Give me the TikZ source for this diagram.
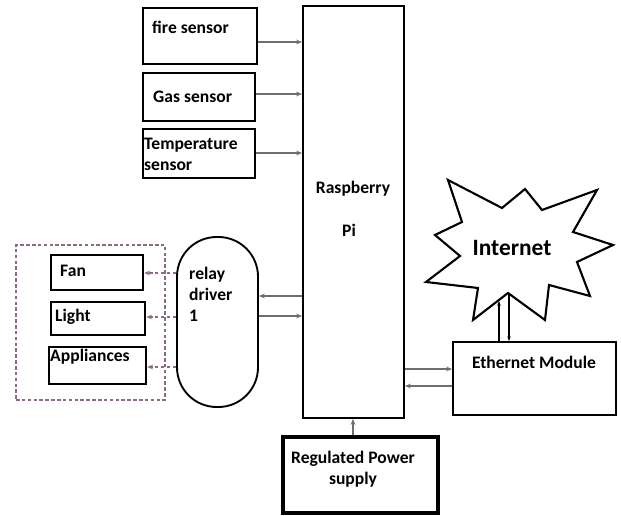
\documentclass[tikz,border=0pt]{standalone}
\usepackage{fontspec}
\setmainfont{Carlito}
\usepackage{tikz}
\usetikzlibrary{arrows.meta, positioning}

\definecolor{pfeilgrau}{RGB}{110,110,110}
\definecolor{lastlila}{RGB}{140,105,135}

\tikzset{
	block/.style={draw, line width=2.1pt, inner sep=0pt},
	txt/.style={font=\bfseries\fontsize{15}{18}\selectfont, inner sep=0pt},
	arr/.style={draw=pfeilgrau, line width=0.9pt, -{Stealth[length=5pt,width=4pt]}},
	lastarr/.style={draw=lastlila, densely dashed, line width=0.9pt, -{Stealth[length=5pt,width=4pt]}}
}

\begin{document}
\begin{tikzpicture}[x=0.03cm, y=-0.03cm]
			\useasboundingbox (0,0) rectangle (621,516);
			
			% Sensoren
			\node[block, minimum width=3.42cm, minimum height=1.68cm] (fire) at (200,36) {};
			\node[block, minimum width=3.36cm, minimum height=1.44cm] (gas) at (199,97) {};
			\node[block, minimum width=3.36cm, minimum height=1.47cm] (temp) at (199,153.5) {};
			\node[txt, anchor=west] (firetxt) at (152,27) {fire sensor};
			\node[txt, anchor=west] (gastxt) at (153,97) {Gas sensor};
			\node[txt, anchor=west, align=left] (temptxt) at (144,154) {Temperature\\sensor};
			
			% Raspberry Pi
			\node[block, line width=1.6pt, minimum width=3.03cm, minimum height=12.36cm] (pi) at (353.5,212) {};
			\node[txt] (pitxt1) at (353,189) {Raspberry};
			\node[txt] (pitxt2) at (349,230) {Pi};
			
			% Relais und Lasten
			\node[draw=lastlila, densely dashed, line width=1.2pt, minimum width=4.47cm, minimum height=4.65cm] (lasten) at (90.5,322.5) {};
			\node[block, minimum width=2.76cm, minimum height=1.05cm] (fan) at (97,272.5) {};
			\node[block, minimum width=2.82cm, minimum height=0.99cm] (light) at (98,318.5) {};
			\node[block, minimum width=2.91cm, minimum height=1.11cm] (appl) at (97.5,365.5) {};
			\node[txt, anchor=west] (fantxt) at (60,271) {Fan};
			\node[txt, anchor=west] (lighttxt) at (55,317) {Light};
			\node[txt, anchor=west] (appltxt) at (50,357) {Appliances};
			\node[block, line width=1.6pt, rounded corners=1.19cm, minimum width=2.43cm, minimum height=5.1cm] (relay) at (217.5,322) {};
			\node[txt, anchor=west, align=left] (relaytxt) at (189,294) {relay\\driver\\1};
			
			% Internet
			\draw[line width=1.8pt] (448,180) -- (502,208) -- (525,189) -- (542,210) -- (597,190) -- (573,232) -- (613,245) -- (577,262) -- (590,296) -- (549,285) -- (545,320) -- (508,293) -- (473,320) -- (478,288) -- (426,282) -- (460,256) -- (435,235) -- (462,222) -- cycle;
			\node[font=\bfseries\fontsize{20}{24}\selectfont, inner sep=0pt] (net) at (512,248) {Internet};
			\coordinate (netl) at (499,301);
			\coordinate (netr) at (509,294);
			
			% Ethernet und Netzteil
			\node[block, line width=1.6pt, minimum width=4.89cm, minimum height=2.19cm] (eth) at (534.5,378.5) {};
			\node[txt] (ethtxt) at (534,362) {Ethernet Module};
			\node[block, line width=2.6pt, minimum width=4.65cm, minimum height=2.28cm] (power) at (360.5,475) {};
			\node[txt, align=center] (powertxt) at (353,469) {Regulated Power\\supply};
			
			% Verbindungen
			\foreach \quelle/\y in {fire/42, gas/94, temp/153} {
				\draw[arr] (\quelle.east |- 0,\y) -- (pi.west |- 0,\y);
			}
			\draw[arr] (pi.west |- 0,296) -- (relay.east |- 0,296);
			\draw[arr] (relay.east |- 0,316) -- (pi.west |- 0,316);
			\foreach \last/\y in {fan/273, light/317, appl/367} {
				\draw[lastarr] (relay.west |- 0,\y) -- (\last.east |- 0,\y);
			}
			\draw[arr] (pi.east |- 0,369) -- (eth.west |- 0,369);
			\draw[arr] (eth.west |- 0,386) -- (pi.east |- 0,386);
			\draw[arr] (power.north -| 353,0) -- (pi.south -| 353,0);
			\draw[line width=1pt, -{Stealth[length=4pt,width=3pt]}] (eth.north -| netl) -- (netl);
			\draw[line width=1pt, -{Stealth[length=4pt,width=3pt]}] (netr) -- (eth.north -| netr);
		\end{tikzpicture}
\end{document}
